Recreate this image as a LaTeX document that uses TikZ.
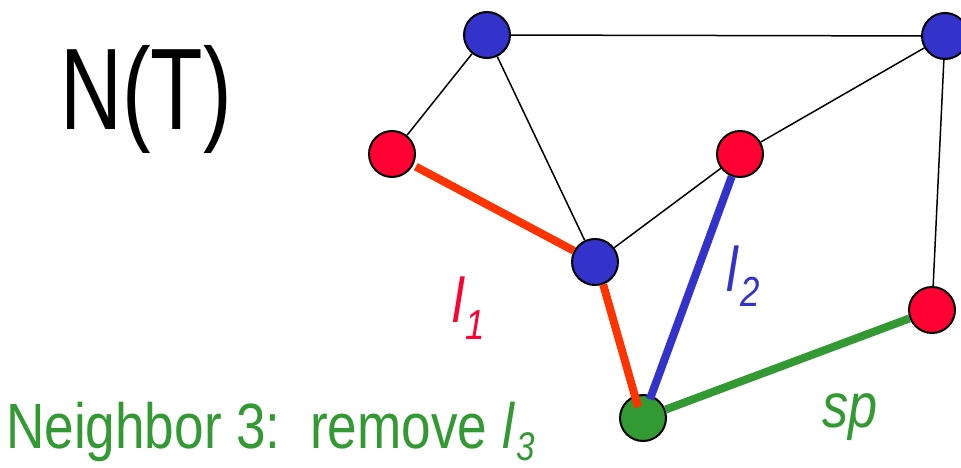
\documentclass[tikz,border=0pt]{standalone}
\usepackage{fontspec}
\setmainfont{Liberation Sans}[FakeStretch=0.83]
\newfontfamily\titlefont{Liberation Sans}[FakeStretch=0.74]
\definecolor{nodered}{RGB}{255, 0, 51}
\definecolor{nodeblue}{RGB}{51, 51, 204}
\definecolor{nodegreen}{RGB}{51, 153, 51}
\definecolor{pathred}{RGB}{255, 51, 0}
% italic l with a lowered italic index
\newcommand{\lname}[3]{\textit{l}\kern1pt\raisebox{-#3}{\fontsize{#2}{#2}\selectfont\textit{#1}}}

\begin{document}
\begin{tikzpicture}[x=1pt, y=-1pt,
        vtx/.style={circle, draw=black, line width=2pt, minimum size=46pt, inner sep=0pt},
        vtxblue/.style={vtx, fill=nodeblue},
        vtxred/.style={vtx, fill=nodered},
        vtxgreen/.style={vtx, fill=nodegreen},
        link/.style={black, line width=1.5pt},
        hot/.style={line width=8pt},
        lbl/.style={anchor=base west, inner sep=0pt}
    ]
        \useasboundingbox (0,0) rectangle (961,468);

        % Vertices
        \node[vtxblue] (b1) at (487, 35) {};
        \node[vtxblue] (b2) at (945, 36) {};
        \node[vtxred] (r1) at (392, 154) {};
        \node[vtxred] (r2) at (740, 154) {};
        \node[vtxblue] (b3) at (595, 262) {};
        \node[vtxred] (r3) at (932, 310) {};
        \node[vtxgreen] (g1) at (643, 418) {};

        % Plain edges
        \draw[link] (b1) -- (r1);
        \draw[link] (b1) -- (b2);
        \draw[link] (b1) -- (b3);
        \draw[link] (b3) -- (r2);
        \draw[link] (r2) -- (b2);
        \draw[link] (b2) -- (r3);

        % Marked edges
        \draw[hot, pathred, shorten <=3pt] (r1) -- (b3);
        \draw[hot, pathred, shorten >=-12pt] (b3.-70) -- (g1.110);
        \draw[hot, nodeblue, shorten >=-4pt] (r2) -- (g1);
        \draw[hot, nodegreen] (g1) -- (r3);

        % Labels
        \node[lbl, font=\titlefont\fontsize{116}{116}\selectfont] (title) at (60, 130) {N(T)};
        \node[lbl, text=nodered, font=\fontsize{63}{63}\selectfont] (l1) at (452, 322) {\lname{1}{42}{17pt}};
        \node[lbl, text=nodeblue, font=\fontsize{63}{63}\selectfont] (l2) at (726, 291) {\lname{2}{42}{15pt}};
        \node[lbl, text=nodegreen, font=\fontsize{63}{63}\selectfont\itshape] (sp) at (822, 427) {sp};
        \node[lbl, text=nodegreen, font=\fontsize{64}{64}\selectfont] (caption) at (6, 448) {Neighbor 3:\ \ remove \lname{3}{40}{12pt}};
    \end{tikzpicture}
\end{document}
